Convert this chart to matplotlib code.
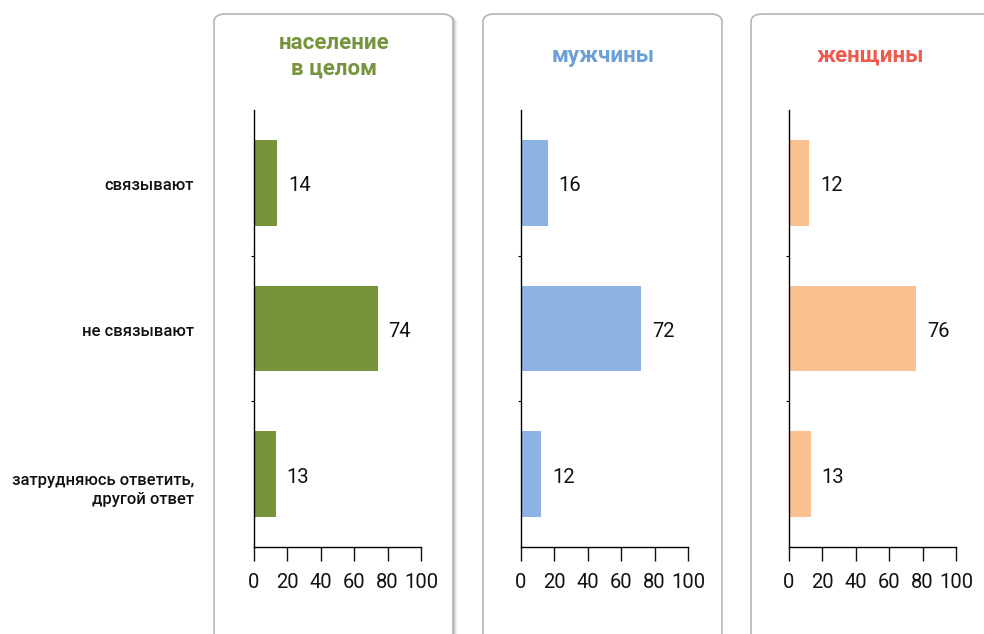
import matplotlib
matplotlib.use("Agg")
import matplotlib.pyplot as plt
from matplotlib.patches import FancyBboxPatch

categories = ["связывают", "не связывают", "затрудняюсь ответить,\nдругой ответ"]
panel_titles = ["население\nв целом", "мужчины", "женщины"]
total_vals = [14, 74, 13]
men_vals = [16, 72, 12]
women_vals = [12, 76, 13]
xticks = [0, 20, 40, 60, 80, 100]

series = [total_vals, men_vals, women_vals]
bar_colors = ["#77933C", "#8DB3E2", "#FAC090"]
title_colors = ["#77933C", "#6A9FD8", "#EE5A4E"]

plt.rcParams["font.family"] = ["Roboto", "DejaVu Sans"]

W, H = 984, 634
fig = plt.figure(figsize=(W / 100, H / 100), dpi=100)

def fx(px):
    return px / W

def fy(py):
    return 1 - py / H

# panel boxes
boxes = [(214, 453), (483, 722), (751, 1000)]
for i, (x0, x1) in enumerate(boxes):
    if i == 0:
        for k, a in enumerate([0.12, 0.09, 0.06, 0.04, 0.02]):
            sh = FancyBboxPatch((fx(x0 + 1 + k), fy(660)), fx(x1 - x0), fy(14 + 1) - fy(660),
                                boxstyle="round,pad=0,rounding_size=0.012",
                                transform=fig.transFigure, facecolor="black", alpha=a,
                                edgecolor="none", zorder=0)
            fig.patches.append(sh)
    p = FancyBboxPatch((fx(x0), fy(660)), fx(x1 - x0), fy(14) - fy(660),
                       boxstyle="round,pad=0,rounding_size=0.012",
                       transform=fig.transFigure, facecolor="white",
                       edgecolor="#B5B5B5", linewidth=1.2, zorder=1)
    fig.patches.append(p)

axis_x0 = [254, 521, 789]
axis_w = 167
top, bottom = 110, 547
title_centers = [334, 603, 870]
label_offsets = [0.02, 0.02, 0.11]

for i in range(3):
    ax = fig.add_axes([fx(axis_x0[i]), fy(bottom), fx(axis_w), fy(top) - fy(bottom)])
    ax.set_zorder(2)
    ax.patch.set_alpha(0)
    vals = series[i]
    y = list(range(len(categories)))
    ax.barh(y, vals, height=0.59, color=bar_colors[i])
    for yy, v in zip(y, vals):
        ax.text(v + 6.5, yy + 0.02, str(v), va="center", ha="left", fontsize=14.5,
                color="#111111")
    ax.set_xlim(0, 100)
    ax.set_ylim(2.5, -0.5)
    ax.spines["top"].set_visible(False)
    ax.spines["right"].set_visible(False)
    ax.spines["left"].set_linewidth(1.0)
    ax.spines["bottom"].set_linewidth(1.0)
    ax.set_xticks(xticks)
    ax.set_xticklabels([str(t) for t in xticks], fontsize=14.5)
    ax.tick_params(axis="x", direction="out", length=10, width=1.0, pad=9, colors="#111111")
    ax.set_yticks([0.5, 1.5])
    ax.set_yticklabels([])
    ax.tick_params(axis="y", direction="out", length=2, width=0.8)
    if i == 0:
        for yy, c, off in zip(y, categories, label_offsets):
            ax.text(-0.36, yy + off, c, transform=ax.get_yaxis_transform(), ha="right",
                    va="center", fontsize=12, fontweight="medium", color="#111111",
                    linespacing=1.3)
    fig.text(fx(title_centers[i]), fy(56), panel_titles[i], ha="center", va="center",
             fontsize=16, fontweight="bold", color=title_colors[i], linespacing=1.2)

fig.savefig("out.png", dpi=100)
